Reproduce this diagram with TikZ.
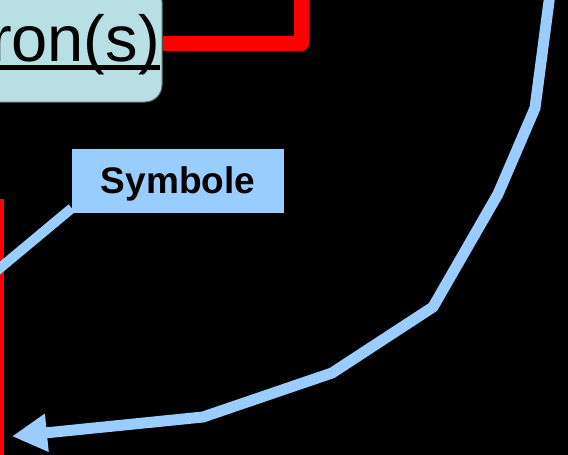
\documentclass[tikz,border=0pt]{standalone}
\usepackage{fontspec}
\setmainfont{Liberation Sans}
\usetikzlibrary{arrows.meta}
\definecolor{boxteal}{HTML}{B8E0E4}
\definecolor{boxedge}{HTML}{5A6E70}
\definecolor{lblue}{HTML}{99CCFF}
\definecolor{redline}{HTML}{FF0000}
\tikzset{
  tealbox/.style={draw=boxedge, line width=1pt, fill=boxteal, rounded corners=17pt, inner sep=0pt},
  symbox/.style={fill=lblue, inner sep=0pt, text=black},
  symtext/.style={inner sep=0pt, font=\fontsize{37}{44}\selectfont\bfseries, text=black},
  bigtext/.style={inner sep=0pt, font=\fontsize{65}{72}\selectfont, text=black},
  redthick/.style={draw=redline, line width=15pt, line join=round},
  redthin/.style={draw=redline, line width=4pt},
  blueconn/.style={draw=lblue, line width=10pt},
  bluearrow/.style={draw=lblue, line width=11pt, -{Triangle[length=35pt,width=36pt]}}
}
\begin{document}
\begin{tikzpicture}[x=1pt,y=-1pt]
\fill[black] (0,0) rectangle (568,455);
\useasboundingbox (0,0) rectangle (568,455);
% teal box
\node[tealbox, minimum width=202pt, minimum height=117pt] (main) at (61,43.5) {};
\node[bigtext, anchor=base east] (lbl) at (160,61) {ron(s)};
\draw[black, line width=4.5pt] ([yshift=-6.7pt]lbl.base west) -- ([yshift=-6.7pt]lbl.base east);
% red thick connector
\coordinate (redtop) at (301,-12);
\draw[redthick] (main.east) -| (redtop);
% red thin line
\coordinate (rt1) at (1.5,199);
\coordinate (rt2) at (1.5,462);
\draw[redthin] (rt1) -- (rt2);
% Symbole box
\node[symbox, minimum width=212pt, minimum height=64pt] (sym) at (178,181) {};
\node[symtext, anchor=base] (symlbl) at (178,193) {Symbole};
\coordinate (symend) at (-12,278);
\draw[blueconn] ([shift={(0,-5)}]sym.south west) -- (symend);
% big arrow
\coordinate (a0) at (550.5,-10);
\coordinate (a1) at (535,108);
\coordinate (a2) at (498,194);
\coordinate (a3) at (433,307);
\coordinate (a4) at (332,373);
\coordinate (a5) at (203,417);
\coordinate (a6) at (12,436.3);
\draw[bluearrow] (a0) -- (a1) -- (a2) -- (a3) -- (a4) -- (a5) -- (a6);
\end{tikzpicture}
\end{document}
